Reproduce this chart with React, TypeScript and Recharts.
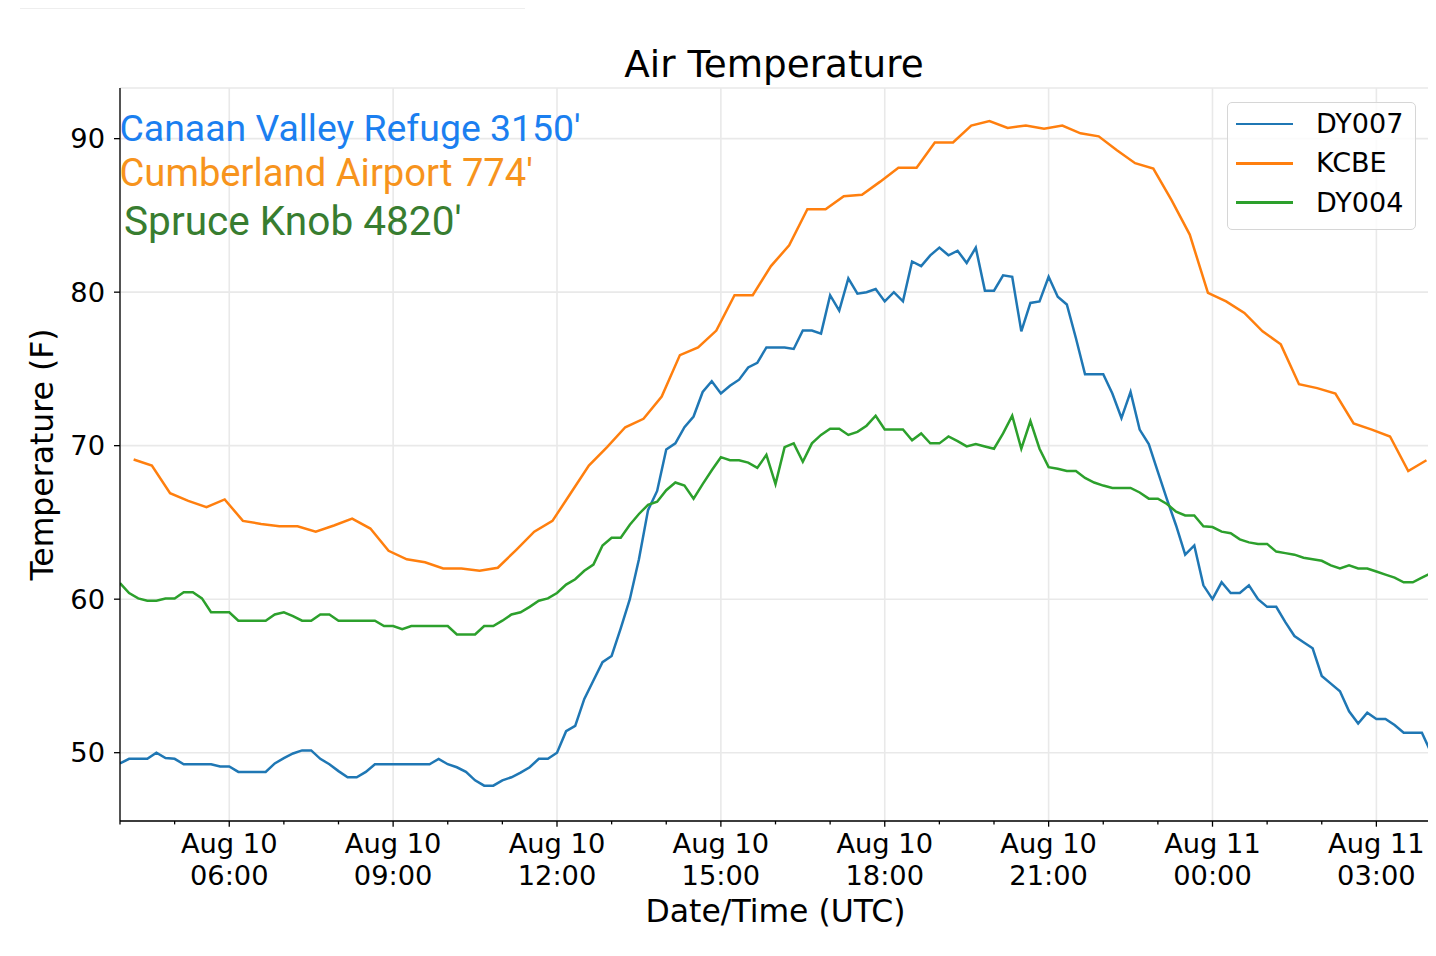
import { LineChart, Line, XAxis, YAxis, CartesianGrid, Legend } from 'recharts'

// hours after Aug 10 00:00 UTC
const dy007Start = 4
const dy007Step = 1 / 6
const dy007 = [
  49.3, 49.6, 49.6, 49.6, 50.0, 49.65, 49.6, 49.25, 49.25, 49.25, 49.25, 49.1,
  49.1, 48.75, 48.75, 48.75, 48.75, 49.3, 49.65, 49.95, 50.15, 50.15, 49.6, 49.25,
  48.8, 48.4, 48.4, 48.75, 49.25, 49.25, 49.25, 49.25, 49.25, 49.25, 49.25, 49.6,
  49.25, 49.05, 48.75, 48.2, 47.85, 47.85, 48.2, 48.4, 48.7, 49.05, 49.6, 49.6,
  50.0, 51.4, 51.75, 53.5, 54.7, 55.9, 56.3, 58.1, 60.0, 62.6, 65.8, 67.05,
  69.75, 70.15, 71.2, 71.9, 73.5, 74.2, 73.4, 73.9, 74.3, 75.1, 75.4, 76.4,
  76.4, 76.4, 76.3, 77.5, 77.5, 77.3, 79.8, 78.8, 80.9, 79.9, 80.0, 80.2,
  79.4, 80.0, 79.4, 82.0, 81.7, 82.4, 82.9, 82.4, 82.7, 81.9, 82.9, 80.1,
  80.1, 81.1, 81.0, 77.45, 79.3, 79.4, 81.0, 79.7, 79.2, 77.0, 74.65, 74.65,
  74.65, 73.4, 71.8, 73.5, 71.05, 70.1, 68.3, 66.5, 64.8, 62.9, 63.5, 60.9,
  60.0, 61.1, 60.4, 60.4, 60.9, 60.0, 59.5, 59.5, 58.5, 57.6, 57.2, 56.8,
  55.0, 54.5, 54.0, 52.7, 51.9, 52.6, 52.2, 52.2, 51.8, 51.3, 51.3, 51.3,
  50.0,
]

const dy004Start = 4
const dy004Step = 1 / 6
const dy004 = [
  61.05, 60.4, 60.05, 59.9, 59.9, 60.05, 60.05, 60.45, 60.45, 60.05, 59.15, 59.15,
  59.15, 58.6, 58.6, 58.6, 58.6, 59.0, 59.15, 58.9, 58.6, 58.6, 59.0, 59.0,
  58.6, 58.6, 58.6, 58.6, 58.6, 58.25, 58.25, 58.05, 58.25, 58.25, 58.25, 58.25,
  58.25, 57.7, 57.7, 57.7, 58.25, 58.25, 58.6, 59.0, 59.15, 59.5, 59.9, 60.05,
  60.4, 60.95, 61.3, 61.85, 62.25, 63.5, 64.0, 64.0, 64.85, 65.55, 66.15, 66.35,
  67.1, 67.6, 67.4, 66.55, 67.5, 68.4, 69.25, 69.05, 69.05, 68.9, 68.55, 69.4,
  67.5, 69.9, 70.15, 68.95, 70.15, 70.7, 71.1, 71.1, 70.7, 70.9, 71.3, 71.95,
  71.05, 71.05, 71.05, 70.35, 70.8, 70.15, 70.15, 70.6, 70.3, 69.95, 70.1, 69.95,
  69.8, 70.8, 71.95, 69.8, 71.6, 69.8, 68.6, 68.5, 68.35, 68.35, 67.9, 67.6,
  67.4, 67.25, 67.25, 67.25, 66.95, 66.55, 66.55, 66.2, 65.7, 65.45, 65.45, 64.75,
  64.7, 64.4, 64.3, 63.9, 63.7, 63.6, 63.6, 63.1, 63.0, 62.9, 62.7, 62.6,
  62.5, 62.2, 62.0, 62.2, 62.0, 62.0, 61.8, 61.6, 61.4, 61.1, 61.1, 61.4,
  61.7,
]

// KCBE reports at :15, :35, :55
const kcbeStart = 4.25
const kcbeStep = 1 / 3
const kcbe = [
  69.1, 68.7, 66.9, 66.4, 66.0, 66.5, 65.1, 64.9, 64.75, 64.75, 64.4, 64.8,
  65.25, 64.6, 63.15, 62.6, 62.4, 62.0, 62.0, 61.85, 62.05, 63.2, 64.4, 65.1,
  66.9, 68.7, 69.9, 71.2, 71.75, 73.2, 75.9, 76.4, 77.5, 79.8, 79.8, 81.7,
  83.05, 85.4, 85.4, 86.25, 86.35, 87.2, 88.1, 88.1, 89.75, 89.75, 90.85, 91.15,
  90.7, 90.85, 90.65, 90.85, 90.35, 90.15, 89.25, 88.4, 88.05, 86.0, 83.75, 79.95,
  79.4, 78.65, 77.45, 76.6, 74.0, 73.75, 73.4, 71.45, 71.05, 70.6, 68.35, 69.05,
]

const hourTicks = [4, 5, 6, 7, 8, 9, 10, 11, 12, 13, 14, 15, 16, 17, 18, 19, 20, 21, 22, 23, 24, 25, 26, 27, 28]
const majorHours = [6, 9, 12, 15, 18, 21, 24, 27]
const majorDays = ['Aug 10', 'Aug 10', 'Aug 10', 'Aug 10', 'Aug 10', 'Aug 10', 'Aug 11', 'Aug 11']
const majorTimes = ['06:00', '09:00', '12:00', '15:00', '18:00', '21:00', '00:00', '03:00']
const tempTicks = [50, 60, 70, 80, 90]
const legendOrder = ['DY007', 'KCBE', 'DY004']

const toSeries = (vals: number[], start: number, step: number) =>
  vals.map((v, i) => ({ t: start + i * step, v }))

const dy007Data = toSeries(dy007, dy007Start, dy007Step)
const dy004Data = toSeries(dy004, dy004Start, dy004Step)
const kcbeData = toSeries(kcbe, kcbeStart, kcbeStep)

const FONT = '"DejaVu Sans", sans-serif'
const xDomain = [4, 28]
const yDomain = [45.55, 93.3]

function HourTick({ x, y, payload }: any) {
  const idx = majorHours.indexOf(payload.value)
  const major = idx >= 0
  return (
    <g>
      <line x1={x} x2={x} y1={y} y2={y + (major ? 5.7 : 3.4)} stroke="#000" strokeWidth={1.3} />
      {major && (
        <text textAnchor="middle" fontSize={27.3} fill="#000" fontFamily={FONT}>
          <tspan x={x} y={y + 32}>{majorDays[idx]}</tspan>
          <tspan x={x} y={y + 64}>{majorTimes[idx]}</tspan>
        </text>
      )}
    </g>
  )
}

function LegendBox({ payload }: any) {
  const items = [...(payload || [])].sort(
    (a: any, b: any) => legendOrder.indexOf(a.value) - legendOrder.indexOf(b.value),
  )
  return (
    <div style={{
      width: 189, height: 128, boxSizing: 'border-box', position: 'relative',
      border: '1.3px solid #d6d6d6', borderRadius: 5, background: 'rgba(255,255,255,0.8)',
      fontFamily: FONT, fontSize: 27, color: '#000',
    }}>
      {items.map((p: any, i: number) => (
        <div key={p.value} style={{ position: 'absolute', left: 0, top: 1 + i * 39.3, height: 40, display: 'flex', alignItems: 'center' }}>
          <div style={{ marginLeft: 8, width: 57, height: 2.5, background: p.color }} />
          <span style={{ marginLeft: 23, lineHeight: '40px', whiteSpace: 'nowrap' }}>{p.value}</span>
        </div>
      ))}
    </div>
  )
}

export default function App() {
  return (
    <div style={{ position: 'relative', width: 1428, height: 940, background: '#fff' }}>
      <div style={{ position: 'absolute', left: 12, top: 0, width: 505, height: 1, background: '#eeeeee' }} />
      <LineChart width={1428} height={940} margin={{ top: 80, right: 5, bottom: 0, left: 0 }}>
        <XAxis xAxisId="grid" type="number" dataKey="t" domain={xDomain} ticks={majorHours} allowDataOverflow hide />
        <CartesianGrid xAxisId="grid" stroke="#e9e9e9" strokeWidth={1.6} />
        <XAxis
          type="number" dataKey="t" domain={xDomain} ticks={hourTicks} interval={0} allowDataOverflow
          height={127} tickSize={0} tickMargin={0} tickLine={false}
          axisLine={{ stroke: '#000', strokeWidth: 1.3 }}
          tick={<HourTick />}
          label={{
            value: 'Date/Time (UTC)',
            content: ({ viewBox }: any) => (
              <text x={viewBox.x + viewBox.width / 2} y={viewBox.y + 101} textAnchor="middle" fontSize={31.5} fontFamily={FONT} fill="#000">
                Date/Time (UTC)
              </text>
            ),
          }}
        />
        <XAxis xAxisId="top" orientation="top" type="number" domain={xDomain} allowDataOverflow height={0} tick={false} tickLine={false} axisLine={{ stroke: '#000', strokeWidth: 1.3 }} />
        <YAxis
          type="number" domain={yDomain} ticks={tempTicks} allowDataOverflow width={112}
          tickSize={6} tickMargin={9} tickLine={{ stroke: '#000', strokeWidth: 1.3 }}
          axisLine={{ stroke: '#000', strokeWidth: 1.3 }}
          tick={{ fontSize: 27.3, fontFamily: FONT, fill: '#000' }}
          label={{
            value: 'Temperature (F)',
            content: ({ viewBox }: any) => {
              const cx = 45.3
              const cy = viewBox.y + viewBox.height / 2
              return (
                <text x={cx} y={cy} transform={`rotate(-90, ${cx}, ${cy})`} textAnchor="middle" fontSize={31.5} fontFamily={FONT} fill="#000">
                  Temperature (F)
                </text>
              )
            },
          }}
        />
        <YAxis yAxisId="right" orientation="right" type="number" domain={yDomain} allowDataOverflow width={0} tick={false} tickLine={false} axisLine={{ stroke: '#000', strokeWidth: 1.3 }} />
        <Legend
          layout="vertical" align="center" verticalAlign="middle"
          content={<LegendBox />}
          wrapperStyle={{ left: 1219, top: 94, width: 189, height: 128 }}
        />
        <Line data={dy007Data} dataKey="v" name="DY007" type="linear" stroke="#1f77b4" strokeWidth={2.5} dot={false} isAnimationActive={false} />
        <Line data={kcbeData} dataKey="v" name="KCBE" type="linear" stroke="#ff7f0e" strokeWidth={2.5} dot={false} isAnimationActive={false} />
        <Line data={dy004Data} dataKey="v" name="DY004" type="linear" stroke="#2ca02c" strokeWidth={2.5} dot={false} isAnimationActive={false} />
      </LineChart>
      <svg width={1428} height={940} style={{ position: 'absolute', left: 0, top: 0, pointerEvents: 'none' }}>
        <text x={766} y={68.7} textAnchor="middle" fontSize={37.3} fontFamily={FONT} fill="#000">Air Temperature</text>
        <text x={111.5} y={132.5} fontSize={37.4} fontFamily="Roboto, sans-serif" fill="#1b7ff0">Canaan Valley Refuge 3150'</text>
        <text x={111.5} y={178} fontSize={38.2} fontFamily="Roboto, sans-serif" fill="#f7941d">Cumberland Airport 774'</text>
        <text x={116} y={227} fontSize={40.6} fontFamily="Roboto, sans-serif" fill="#387d30">Spruce Knob 4820'</text>
      </svg>
    </div>
  )
}
